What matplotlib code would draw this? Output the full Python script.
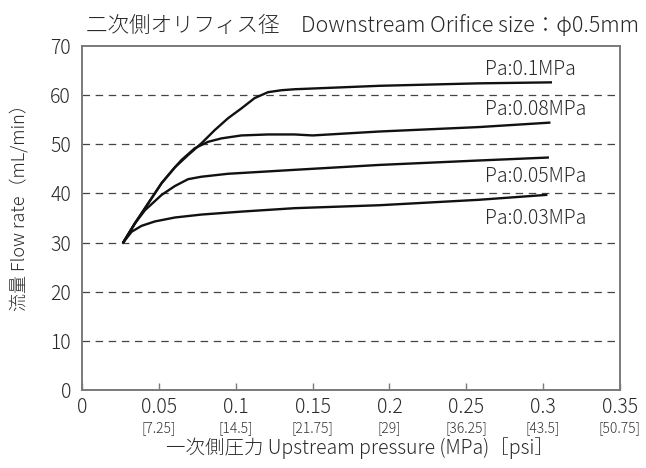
import matplotlib
matplotlib.use("Agg")
import matplotlib.pyplot as plt
import matplotlib.transforms as mtransforms

plt.rcParams['font.family'] = ['Noto Sans CJK JP', 'DejaVu Sans']
plt.rcParams['font.weight'] = 'light'

# Flow characteristics, downstream orifice 0.5 mm
p_01 = [0.027, 0.0344, 0.0431, 0.0518, 0.0604, 0.069, 0.0777, 0.0864, 0.095,
        0.1037, 0.1123, 0.121, 0.1297, 0.1383, 0.1935, 0.258, 0.305]
q_01 = [30.1, 33.9, 38.0, 42.1, 45.3, 47.8, 50.2, 52.9, 55.3,
        57.3, 59.4, 60.6, 61.0, 61.2, 61.9, 62.4, 62.6]

p_008 = [0.027, 0.0344, 0.0431, 0.0518, 0.0604, 0.0647, 0.0734, 0.082, 0.0907,
         0.1037, 0.121, 0.1383, 0.150, 0.1935, 0.258, 0.304]
q_008 = [30.1, 33.9, 38.0, 42.1, 45.3, 46.8, 49.2, 50.5, 51.2,
         51.8, 52.0, 52.0, 51.8, 52.6, 53.5, 54.4]

p_005 = [0.027, 0.0344, 0.041, 0.0518, 0.0604, 0.069, 0.0777, 0.095, 0.1167,
         0.1383, 0.1935, 0.258, 0.303]
q_005 = [30.1, 33.9, 36.6, 39.7, 41.5, 42.9, 43.4, 44.0, 44.4,
         44.8, 45.8, 46.7, 47.3]

p_003 = [0.027, 0.0323, 0.0387, 0.0474, 0.0604, 0.0777, 0.1037, 0.1383,
         0.1935, 0.258, 0.302]
q_003 = [30.1, 32.2, 33.4, 34.3, 35.1, 35.7, 36.3, 37.0,
         37.6, 38.7, 39.7]

series = [(p_01, q_01), (p_008, q_008), (p_005, q_005), (p_003, q_003)]
series_labels = ["Pa:0.1MPa", "Pa:0.08MPa", "Pa:0.05MPa", "Pa:0.03MPa"]
label_y = [65.2, 57.0, 43.5, 34.9]

x_ticks = [0, 0.05, 0.1, 0.15, 0.2, 0.25, 0.3, 0.35]
x_tick_labels = ["0", "0.05", "0.1", "0.15", "0.2", "0.25", "0.3", "0.35"]
psi_labels = ["", "[7.25]", "[14.5]", "[21.75]", "[29]", "[36.25]", "[43.5]", "[50.75]"]
y_ticks = [0, 10, 20, 30, 40, 50, 60, 70]

text_color = '#2a2a2a'

fig = plt.figure(figsize=(6.46, 4.68), dpi=100)
ax = fig.add_axes([82 / 646, 78 / 468, 538 / 646, 344 / 468])

ax.set_xlim(0, 0.35)
ax.set_ylim(0, 70)

for y in y_ticks[1:-1]:
    ax.axhline(y, color='#444444', lw=0.9, ls=(0, (6, 4.5)), zorder=1)

for (px, qy) in series:
    ax.plot(px, qy, color='#111111', lw=1.7, solid_joinstyle='round', zorder=3)

for lab, ly in zip(series_labels, label_y):
    ax.text(0.2623, ly, lab, fontsize=14, color=text_color, ha='left', va='center')

for s in ax.spines.values():
    s.set_color('#7a7a7a')
    s.set_linewidth(1.4)

ax.set_xticks(x_ticks)
ax.set_xticklabels(x_tick_labels, fontsize=14, color=text_color)
ax.set_yticks(y_ticks)
ax.set_yticklabels([str(v) for v in y_ticks], fontsize=14, color=text_color)
ax.tick_params(axis='x', direction='in', length=5, width=1.0, color='#7a7a7a', pad=5)
ax.tick_params(axis='y', length=0, pad=8)

trans = mtransforms.blended_transform_factory(ax.transData, fig.transFigure)
for xv, pl in zip(x_ticks, psi_labels):
    if pl:
        ax.text(xv, 1 - 428 / 468, pl, transform=trans, fontsize=10, color='#333333',
                ha='center', va='center')

fig.text(360 / 646, 1 - 448 / 468, "一次側圧力 Upstream pressure (MPa)［psi］",
         fontsize=14, color=text_color, ha='center', va='center')
fig.text(19 / 646, 1 - 203 / 468, "流量 Flow rate（mL/min）", rotation=90,
         fontsize=13, color=text_color, ha='center', va='center')
fig.text(362 / 646, 1 - 26 / 468, "二次側オリフィス径　Downstream Orifice size：φ0.5mm",
         fontsize=15.5, color=text_color, ha='center', va='center')

fig.savefig("out.png", dpi=100)
